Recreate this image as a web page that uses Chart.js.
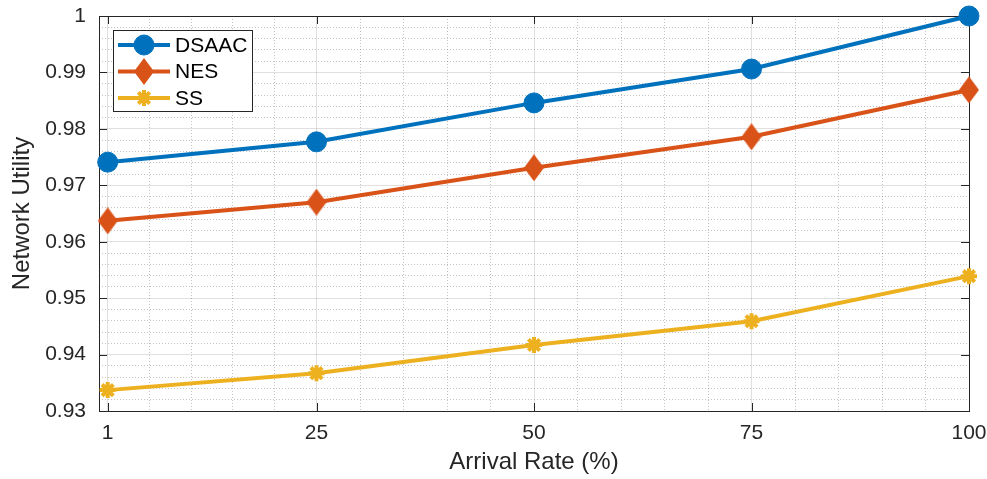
<!DOCTYPE html>
<html>
<head>
<meta charset="utf-8">
<script src="https://cdn.jsdelivr.net/npm/chart.js@4/dist/chart.umd.min.js"></script>
<style>
html, body { margin: 0; padding: 0; background: #fff; }
#wrap { width: 987px; height: 479px; }
</style>
</head>
<body>
<div id="wrap"><canvas id="my-chart"></canvas></div>
<script>
//  Data

const arrivalRate = [1, 25, 50, 75, 100]
const dsaac = [0.9741, 0.9777, 0.9846, 0.9906, 1.0]
const nes   = [0.9637, 0.9670, 0.9731, 0.9786, 0.9869]
const ss    = [0.9337, 0.9367, 0.9417, 0.9459, 0.9539]

const xMajorTicks = [1, 25, 50, 75, 100]
const xMinorTicks = [5.8, 10.6, 15.4, 20.2, 30, 35, 40, 45, 55, 60, 65, 70, 80, 85, 90, 95]

const FONT = "'Liberation Sans', Arial, Helvetica, sans-serif"
const AXIS = '#262626'

const toPts = (ys) => arrivalRate.map((x, i) => ({ x: x, y: ys[i] }))

const isMajorX = (v) => xMajorTicks.indexOf(v) >= 0
const isMajorY = (v) => Math.round(v * 1000) % 10 === 0


//  MATLAB style tall diamond marker

const makeDiamond = (color, w, h) => {
    const c = document.createElement('canvas')
    c.width = w
    c.height = h
    const g = c.getContext('2d')
    g.fillStyle = color
    g.beginPath()
    g.moveTo(w / 2, 0); g.lineTo(w, h / 2); g.lineTo(w / 2, h); g.lineTo(0, h / 2)
    g.closePath()
    g.fill()
    return c
}


//  Box + inward tick marks

const boxPlugin = {
    id: 'box',
    beforeDatasetsDraw(chart) {
        const { ctx, chartArea: a, scales } = chart
        ctx.save()
        ctx.strokeStyle = AXIS
        ctx.lineWidth = 1
        ctx.beginPath()
        scales.x.ticks.forEach(t => {
            if (!isMajorX(t.value)) return
            const px = Math.round(scales.x.getPixelForValue(t.value)) + 0.5
            ctx.moveTo(px, a.bottom); ctx.lineTo(px, a.bottom - 8)
            ctx.moveTo(px, a.top); ctx.lineTo(px, a.top + 8)
        })
        scales.y.ticks.forEach(t => {
            if (!isMajorY(t.value)) return
            const py = Math.round(scales.y.getPixelForValue(t.value)) + 0.5
            ctx.moveTo(a.left, py); ctx.lineTo(a.left + 8, py)
            ctx.moveTo(a.right, py); ctx.lineTo(a.right - 8, py)
        })
        ctx.stroke()
        ctx.strokeRect(Math.round(a.left) + 0.5, Math.round(a.top) + 0.5,
                       Math.round(a.right - a.left), Math.round(a.bottom - a.top))
        ctx.restore()
    }
}


//  Legend inside the axes, line + marker

const legendPlugin = {
    id: 'boxLegend',
    afterDatasetsDraw(chart) {
        const { ctx, chartArea: a } = chart
        const x0 = Math.round(a.left) + 14, y0 = Math.round(a.top) + 14
        const w = 139, h = 81
        ctx.save()
        ctx.fillStyle = '#fff'
        ctx.fillRect(x0, y0, w, h)
        ctx.strokeStyle = AXIS
        ctx.lineWidth = 1
        ctx.strokeRect(x0 + 0.5, y0 + 0.5, w, h)
        chart.data.datasets.forEach((ds, i) => {
            const cy = y0 + 15 + i * 26.5
            ctx.strokeStyle = ds.borderColor
            ctx.lineWidth = ds.borderWidth
            ctx.beginPath()
            ctx.moveTo(x0 + 5, cy); ctx.lineTo(x0 + 57, cy)
            ctx.stroke()
            ctx.fillStyle = ds.pointBackgroundColor
            ctx.strokeStyle = ds.pointBorderColor
            ctx.lineWidth = ds.pointBorderWidth
            Chart.helpers.drawPoint(ctx, {
                pointStyle: ds.pointStyle, radius: ds.pointRadius,
                rotation: 0, borderWidth: ds.pointBorderWidth
            }, x0 + 31, cy)
            ctx.fillStyle = '#000'
            ctx.font = '21px ' + FONT
            ctx.textBaseline = 'middle'
            ctx.fillText(ds.label, x0 + 62, cy + 1)
        })
        ctx.restore()
    }
}


const series = [
    { label: 'DSAAC', data: dsaac, color: '#0072BD', style: 'circle', r: 10, bw: 1 },
    { label: 'NES',   data: nes,   color: '#D95319', style: makeDiamond('#D95319', 20, 27), r: 12, bw: 1 },
    { label: 'SS',    data: ss,    color: '#EDB120', style: 'star', r: 8, bw: 4 }
]

const data = {
    datasets: series.map(s => ({
        label: s.label,
        data: toPts(s.data),
        borderColor: s.color,
        backgroundColor: s.color,
        borderWidth: 4,
        pointStyle: s.style,
        pointRadius: s.r,
        pointHoverRadius: s.r,
        pointBackgroundColor: s.color,
        pointBorderColor: s.color,
        pointBorderWidth: s.bw,
        tension: 0,
        clip: false
    }))
}

const config = {
    type: 'line',
    data: data,
    options: {
        responsive: true,
        maintainAspectRatio: false,
        animation: false,
        devicePixelRatio: 1,
        layout: { autoPadding: false, padding: { left: 0, top: 16, right: 18, bottom: 0 } },
        plugins: { legend: { display: false }, tooltip: { enabled: false } },
        scales: {
            x: {
                type: 'linear',
                min: 0,
                max: 100,
                afterBuildTicks: (scale) => {
                    scale.ticks = xMajorTicks.concat(xMinorTicks)
                        .sort((p, q) => p - q).map(v => ({ value: v }))
                },
                afterFit: (scale) => {
                    scale.height = 68
                    scale.paddingLeft = 0
                    scale.paddingRight = 0
                },
                ticks: {
                    autoSkip: false,
                    maxRotation: 0,
                    padding: 10,
                    color: AXIS,
                    font: { family: FONT, size: 21 },
                    callback: (v) => isMajorX(v) ? String(v) : ''
                },
                grid: {
                    drawTicks: false,
                    color: (c) => c.tick && isMajorX(c.tick.value) ? 'rgba(38,38,38,0.14)' : 'rgba(38,38,38,0.28)'
                },
                border: {
                    display: false,
                    dash: (c) => c.tick && !isMajorX(c.tick.value) ? [1, 2] : []
                },
                title: {
                    display: true,
                    text: 'Arrival Rate (%)',
                    color: AXIS,
                    font: { family: FONT, size: 24 },
                    padding: { top: 0, bottom: 2 }
                }
            },
            y: {
                min: 0.93,
                max: 1,
                afterFit: (scale) => {
                    scale.width = 99
                    scale.paddingTop = 0
                    scale.paddingBottom = 0
                },
                ticks: {
                    stepSize: 0.002,
                    autoSkip: false,
                    padding: 13,
                    color: AXIS,
                    font: { family: FONT, size: 21 },
                    callback: (v) => isMajorY(v) ? String(Number(v.toFixed(2))) : ''
                },
                grid: {
                    drawTicks: false,
                    color: (c) => c.tick && isMajorY(c.tick.value) ? 'rgba(38,38,38,0.14)' : 'rgba(38,38,38,0.28)'
                },
                border: {
                    display: false,
                    dash: (c) => c.tick && !isMajorY(c.tick.value) ? [1, 2] : []
                },
                title: {
                    display: true,
                    text: 'Network Utility',
                    color: AXIS,
                    font: { family: FONT, size: 24 },
                    padding: { top: 8, bottom: 0 }
                }
            }
        }
    },
    plugins: [boxPlugin, legendPlugin]
}

const myChart = new Chart(document.querySelector('#my-chart').getContext('2d'), config)
</script>
</body>
</html>
